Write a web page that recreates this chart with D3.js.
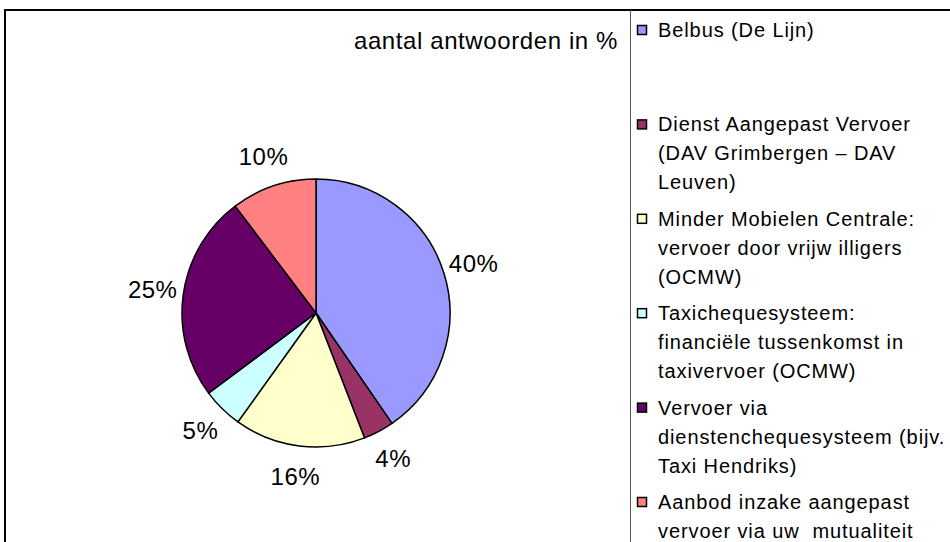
<!DOCTYPE html>
<meta charset="utf-8">
<style>
body { margin: 0; background: #fff; }
svg text { font-family: "Liberation Sans", Arial, sans-serif; fill: #000; }
.title { font-size: 24px; letter-spacing: 0.6px; }
.pct { font-size: 24px; letter-spacing: 0.5px; }
.legend text { font-size: 20px; letter-spacing: 0.9px; }
</style>
<svg width="950" height="542"></svg>
<script src="https://d3js.org/d3.v7.min.js"></script>
<script>

// answer categories, as the legend shows them (one string per line)
var categories = [
  ["Belbus (De Lijn)"],
  ["Dienst Aangepast Vervoer", "(DAV Grimbergen \u2013 DAV", "Leuven)"],
  ["Minder Mobielen Centrale:", "vervoer door vrijw illigers", "(OCMW)"],
  ["Taxichequesysteem:", "financi\u00eble tussenkomst in", "taxivervoer (OCMW)"],
  ["Vervoer via", "dienstenchequesysteem (bijv.", "Taxi Hendriks)"],
  ["Aanbod inzake aangepast", "vervoer via uw  mutualiteit"]
]

// share of answers, in %
var values = [40.4, 3.7, 15.8, 4.9, 24.9, 10.3]

var colors = ["#9999ff", "#993366", "#ffffcc", "#ccffff", "#660066", "#ff8080"]

var title = "aantal antwoorden in %"

var svg = d3.select("svg")

// frame round the chart area, and the legend's left edge
svg.append("path")
   .attr("d", "M5,542V10H950")
   .attr("fill", "none")
   .attr("stroke", "#000")
   .attr("stroke-width", 2)

svg.append("line")
   .attr("x1", 630.5).attr("x2", 630.5)
   .attr("y1", 10).attr("y2", 542)
   .attr("stroke", "#555")
   .attr("stroke-width", 1)

svg.append("text")
   .attr("class", "title")
   .attr("x", 618)
   .attr("y", 49)
   .attr("text-anchor", "end")
   .text(title)

// pie
var cx = 316, cy = 313, radius = 134

var total = d3.sum(values)
var pie = d3.pie().sort(null).value(function(d) { return d })
var arcs = pie(values)

var arc = d3.arc().innerRadius(0).outerRadius(radius)
var labelArc = d3.arc().innerRadius(165).outerRadius(165)

var g = svg.append("g").attr("transform", "translate(" + cx + "," + cy + ")")

g.selectAll("path")
 .data(arcs)
 .enter().append("path")
 .attr("d", arc)
 .attr("fill", function(d, i) { return colors[i] })
 .attr("stroke", "#000")
 .attr("stroke-width", 1.5)
 .attr("stroke-linejoin", "round")

var fmt = d3.format(".0%")
g.selectAll("text")
 .data(arcs)
 .enter().append("text")
 .attr("class", "pct")
 .attr("transform", function(d) { return "translate(" + labelArc.centroid(d) + ")" })
 .attr("text-anchor", "middle")
 .attr("dy", "0.35em")
 .text(function(d) { return fmt(d.value / total) })

// legend, entries spread evenly down the box
var legendY = d3.scaleLinear().domain([0, categories.length - 1]).range([25, 497])

var legend = svg.append("g")
  .attr("class", "legend")
  .selectAll("g")
  .data(categories)
  .enter().append("g")
  .attr("transform", function(d, i) { return "translate(637," + legendY(i) + ")" })

legend.append("rect")
  .attr("x", 0.5).attr("y", 0.5)
  .attr("width", 9)
  .attr("height", 9)
  .attr("fill", function(d, i) { return colors[i] })
  .attr("stroke", "#000")
  .attr("stroke-width", 1.5)

legend.append("text")
  .attr("x", 21)
  .attr("y", 12)
  .style("white-space", "pre")
  .selectAll("tspan")
  .data(function(d) { return d })
  .enter().append("tspan")
  .attr("x", 21)
  .attr("dy", function(d, i) { return i === 0 ? 0 : 29 })
  .text(function(d) { return d })

</script>
</html>
